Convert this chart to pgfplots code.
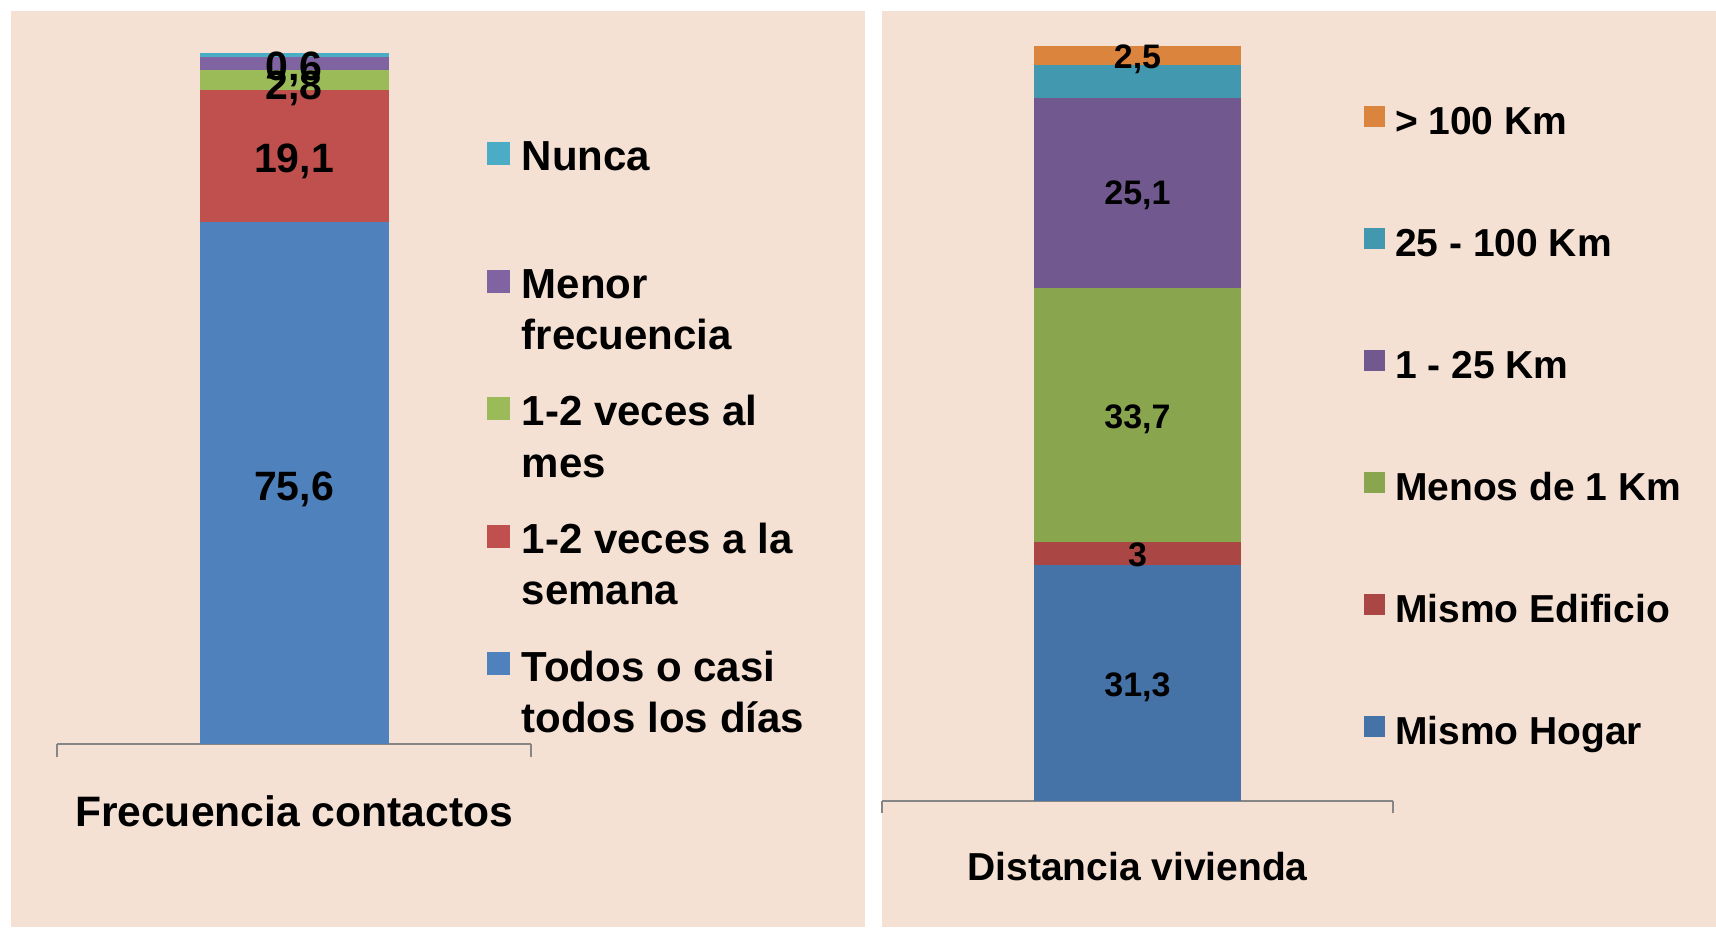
\documentclass[border=0pt]{standalone}
\usepackage{pgfplots}
\pgfplotsset{compat=1.18}
\usepackage{pgfplotstable}
\usepackage{fontspec}
\setmainfont{Liberation Sans}

\definecolor{bg}{HTML}{F5E0D4}
\definecolor{axisgray}{HTML}{868686}
\definecolor{L1}{HTML}{4F81BD}
\definecolor{L2}{HTML}{C0504D}
\definecolor{L3}{HTML}{9BBB59}
\definecolor{L4}{HTML}{8064A2}
\definecolor{L5}{HTML}{4BACC6}
\definecolor{R1}{HTML}{4572A7}
\definecolor{R2}{HTML}{AA4643}
\definecolor{R3}{HTML}{89A54E}
\definecolor{R4}{HTML}{71588F}
\definecolor{R5}{HTML}{4198AF}
\definecolor{R6}{HTML}{DB843D}

\newcommand{\lt}[2]{\begin{tabular}[t]{@{}l@{}}#1\\#2\end{tabular}}

\pgfplotstableread{
x y lab
0 37.4 75,6
0 84.8 19,1
0 95.4 2,8
0 98.1 0,6
}\leftlabels

\pgfplotstableread{
x y lab
0 15.4 31,3
0 32.7 3
0 51.0 33,7
0 80.6 25,1
0 98.7 2,5
}\rightlabels

\begin{document}
\begin{tikzpicture}
\fill[white] (0,0) rectangle (858pt,463.5pt);
\fill[bg] (5.5pt,0) rectangle (432.5pt,458pt);
\fill[bg] (441pt,0) rectangle (858pt,458pt);

% ---------------- Left panel ----------------
\begin{axis}[
  at={(28.5pt,91.5pt)}, anchor=south west,
  scale only axis, width=237pt, height=345.5pt,
  xmin=-1, xmax=1, ymin=0, ymax=100,
  ybar stacked, bar width=94.5pt,
  axis x line*=bottom, axis y line=none,
  x axis line style={-, draw=axisgray, line width=0.9pt},
  xtick={-1,1}, xticklabels={}, ytick=\empty,
  tick align=outside, major tick length=6.5pt,
  xtick style={draw=axisgray, line width=0.6pt},
  xlabel={Frecuencia contactos},
  xlabel style={at={(axis description cs:0.5,0)}, anchor=base, yshift=-41.35pt, inner sep=0pt,
    font=\fontsize{21.3}{25}\selectfont\bfseries},
  legend image code/.code={\fill[#1] (0pt,2.85pt) rectangle (11.5pt,14.35pt); \path (0pt,0pt) (17.5pt,15pt);},
  reverse legend,
  legend style={at={(0.9065,0.8731)}, anchor=north west, draw=none, fill=none,
    inner sep=0pt, outer sep=0pt, row sep=48.8pt, column sep=0pt,
    font=\fontsize{21}{25.7}\selectfont\bfseries,
    cells={anchor=base west},
    nodes={inner sep=0pt, outer sep=0pt, text height=15pt, text depth=0pt}},
]
\addplot[fill=L1, draw=none] coordinates {(0,75.6)}; \addlegendentry{\lt{Todos o casi}{todos los días}}
\addplot[fill=L2, draw=none] coordinates {(0,19.1)}; \addlegendentry{\lt{1-2 veces a la}{semana}}
\addplot[fill=L3, draw=none] coordinates {(0,2.8)};  \addlegendentry{\lt{1-2 veces al}{mes}}
\addplot[fill=L4, draw=none] coordinates {(0,1.9)};  \addlegendentry{\lt{Menor}{frecuencia}}
\addplot[fill=L5, draw=none] coordinates {(0,0.6)};  \addlegendentry{Nunca}
\end{axis}

\begin{axis}[
  at={(28.5pt,91.5pt)}, anchor=south west,
  scale only axis, width=237pt, height=345.5pt,
  xmin=-1, xmax=1, ymin=0, ymax=100,
  axis lines=none, clip=false,
  nodes near coords, point meta=explicit symbolic, nodes near coords align={center},
  every node near coord/.append style={font=\fontsize{20.5}{24}\selectfont\bfseries, text=black,
    inner sep=0pt, text height=14.7pt, text depth=0pt},
]
\addplot[draw=none, mark=none] table[x=x, y=y, meta=lab] \leftlabels;
\end{axis}

% ---------------- Right panel ----------------
\begin{axis}[
  at={(441pt,63pt)}, anchor=south west,
  scale only axis, width=255.5pt, height=377.5pt,
  xmin=-1, xmax=1, ymin=0, ymax=100,
  ybar stacked, bar width=103.5pt,
  axis x line*=bottom, axis y line=none,
  x axis line style={-, draw=axisgray, line width=0.9pt},
  xtick={-1,1}, xticklabels={}, ytick=\empty,
  tick align=outside, major tick length=6.2pt,
  xtick style={draw=axisgray, line width=0.6pt},
  xlabel={Distancia vivienda},
  xlabel style={at={(axis description cs:0.5,0)}, anchor=base, yshift=-39.85pt, inner sep=0pt,
    font=\fontsize{19.5}{23}\selectfont\bfseries},
  legend image code/.code={\fill[#1] (0pt,3.9pt) rectangle (10.5pt,14.4pt); \path (0pt,0pt) (15.5pt,13.9pt);},
  reverse legend,
  legend style={at={(0.9432,0.9203)}, anchor=north west, draw=none, fill=none,
    inner sep=0pt, outer sep=0pt, row sep=46.6pt, column sep=0pt,
    font=\fontsize{19.5}{23}\selectfont\bfseries,
    cells={anchor=base west},
    nodes={inner sep=0pt, outer sep=0pt, text height=13.9pt, text depth=0pt}},
]
\addplot[fill=R1, draw=none] coordinates {(0,31.3)}; \addlegendentry{Mismo Hogar}
\addplot[fill=R2, draw=none] coordinates {(0,3)};    \addlegendentry{Mismo Edificio}
\addplot[fill=R3, draw=none] coordinates {(0,33.7)}; \addlegendentry{Menos de 1 Km}
\addplot[fill=R4, draw=none] coordinates {(0,25.1)}; \addlegendentry{1 - 25 Km}
\addplot[fill=R5, draw=none] coordinates {(0,4.4)};  \addlegendentry{25 - 100 Km}
\addplot[fill=R6, draw=none] coordinates {(0,2.5)};  \addlegendentry{> 100 Km}
\end{axis}

\begin{axis}[
  at={(441pt,63pt)}, anchor=south west,
  scale only axis, width=255.5pt, height=377.5pt,
  xmin=-1, xmax=1, ymin=0, ymax=100,
  axis lines=none, clip=false,
  nodes near coords, point meta=explicit symbolic, nodes near coords align={center},
  every node near coord/.append style={font=\fontsize{17}{20}\selectfont\bfseries, text=black,
    inner sep=0pt, text height=12.2pt, text depth=0pt},
]
\addplot[draw=none, mark=none] table[x=x, y=y, meta=lab] \rightlabels;
\end{axis}
\end{tikzpicture}
\end{document}
